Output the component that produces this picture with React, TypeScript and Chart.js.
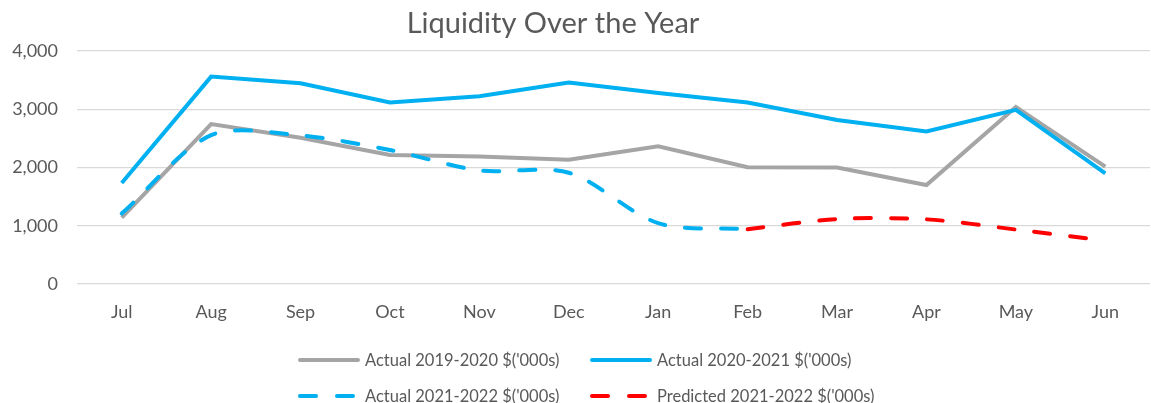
import React, { useEffect, useRef } from "react";
import { Chart, registerables } from "chart.js";

Chart.register(...registerables);

const months = ["Jul", "Aug", "Sep", "Oct", "Nov", "Dec", "Jan", "Feb", "Mar", "Apr", "May", "Jun"];
const actual1920 = [1140, 2745, 2510, 2215, 2190, 2135, 2365, 2005, 2000, 1700, 3040, 2015];
const actual2021 = [1735, 3560, 3445, 3115, 3225, 3460, 3280, 3115, 2815, 2620, 2990, 1900];
const actual2122 = [1210, 2555, 2550, 2300, 1950, 1910, 1045, 940, null, null, null, null];
const predicted2122 = [null, null, null, null, null, null, null, 940, 1115, 1110, 935, 745];
const seriesLabels = [
  "Actual 2019-2020 $('000s)",
  "Actual 2020-2021 $('000s)",
  "Actual 2021-2022 $('000s)",
  "Predicted 2021-2022 $('000s)",
];
const titleText = "Liquidity Over the Year";

const FONT = "Lato, 'Open Sans', sans-serif";
const TEXT = "#595959";
const GRAY = "#A5A5A5";
const BLUE = "#00B0F0";
const RED = "#FF0000";
const DASH = [16, 20];

const legendItems = [
  { label: seriesLabels[0], color: GRAY, dash: [] as number[], row: 0, col: 0 },
  { label: seriesLabels[1], color: BLUE, dash: [] as number[], row: 0, col: 1 },
  { label: seriesLabels[2], color: BLUE, dash: [16, 21], row: 1, col: 0 },
  { label: seriesLabels[3], color: RED, dash: [16, 21], row: 1, col: 1 },
];

const overlayPlugin = {
  id: "overlay",
  afterDraw(chart: any) {
    const ctx = chart.ctx as CanvasRenderingContext2D;
    ctx.save();
    // title
    ctx.font = `29px ${FONT}`;
    ctx.fillStyle = TEXT;
    ctx.textAlign = "center";
    ctx.textBaseline = "alphabetic";
    ctx.fillText(titleText, 553, 33);
    // legend
    const colX = [298, 590];
    const rowY = [360, 396];
    ctx.font = `16.5px ${FONT}`;
    ctx.textAlign = "left";
    ctx.textBaseline = "middle";
    legendItems.forEach((it) => {
      const x = colX[it.col];
      const y = rowY[it.row];
      ctx.beginPath();
      ctx.strokeStyle = it.color;
      ctx.lineWidth = 4;
      ctx.lineCap = "round";
      ctx.setLineDash(it.dash);
      ctx.moveTo(x + 2, y);
      ctx.lineTo(x + 60, y);
      ctx.stroke();
      ctx.setLineDash([]);
      ctx.fillStyle = TEXT;
      ctx.fillText(it.label, x + 67, y + 1);
    });
    ctx.restore();
  },
};

export default function App() {
  const ref = useRef<HTMLCanvasElement | null>(null);
  useEffect(() => {
    document.body.style.margin = "0";
    if (!ref.current) return;
    const chart = new Chart(ref.current, {
      type: "line",
      data: {
        labels: months,
        datasets: [
          {
            label: seriesLabels[0],
            data: actual1920,
            borderColor: GRAY,
            backgroundColor: GRAY,
            borderWidth: 4,
            pointRadius: 0,
            tension: 0,
            order: 4,
          },
          {
            label: seriesLabels[1],
            data: actual2021,
            borderColor: BLUE,
            backgroundColor: BLUE,
            borderWidth: 4,
            pointRadius: 0,
            tension: 0,
            order: 3,
          },
          {
            label: seriesLabels[2],
            data: actual2122,
            borderColor: BLUE,
            backgroundColor: BLUE,
            borderWidth: 4,
            borderDash: DASH,
            borderCapStyle: "round",
            pointRadius: 0,
            tension: 0.3,
            spanGaps: false,
            order: 2,
          },
          {
            label: seriesLabels[3],
            data: predicted2122,
            borderColor: RED,
            backgroundColor: RED,
            borderWidth: 4,
            borderDash: DASH,
            borderCapStyle: "round",
            pointRadius: 0,
            tension: 0.3,
            spanGaps: false,
            order: 1,
          },
        ],
      },
      options: {
        responsive: false,
        animation: false,
        layout: { padding: { top: 51, right: 1, left: 0, bottom: 0 } },
        plugins: {
          legend: { display: false },
          title: { display: false },
          tooltip: { enabled: false },
        },
        scales: {
          x: {
            offset: true,
            grid: { display: false, drawTicks: false },
            border: { display: false },
            ticks: { color: TEXT, font: { family: FONT, size: 18 }, padding: 17, maxRotation: 0 },
            afterFit: (s: any) => {
              s.height = 119;
            },
          },
          y: {
            min: 0,
            max: 4000,
            ticks: {
              stepSize: 1000,
              color: TEXT,
              font: { family: FONT, size: 18 },
              padding: 19,
              callback: (v: any) => Number(v).toLocaleString("en-US"),
            },
            grid: { color: "#D9D9D9", lineWidth: 1.3, drawTicks: false },
            border: { display: false },
            afterFit: (s: any) => {
              s.width = 77;
            },
          },
        },
      },
      plugins: [overlayPlugin],
    });
    return () => chart.destroy();
  }, []);
  return (
    <div style={{ width: 1151, height: 403 }}>
      <canvas ref={ref} width={1151} height={403} style={{ display: "block" }} />
    </div>
  );
}
